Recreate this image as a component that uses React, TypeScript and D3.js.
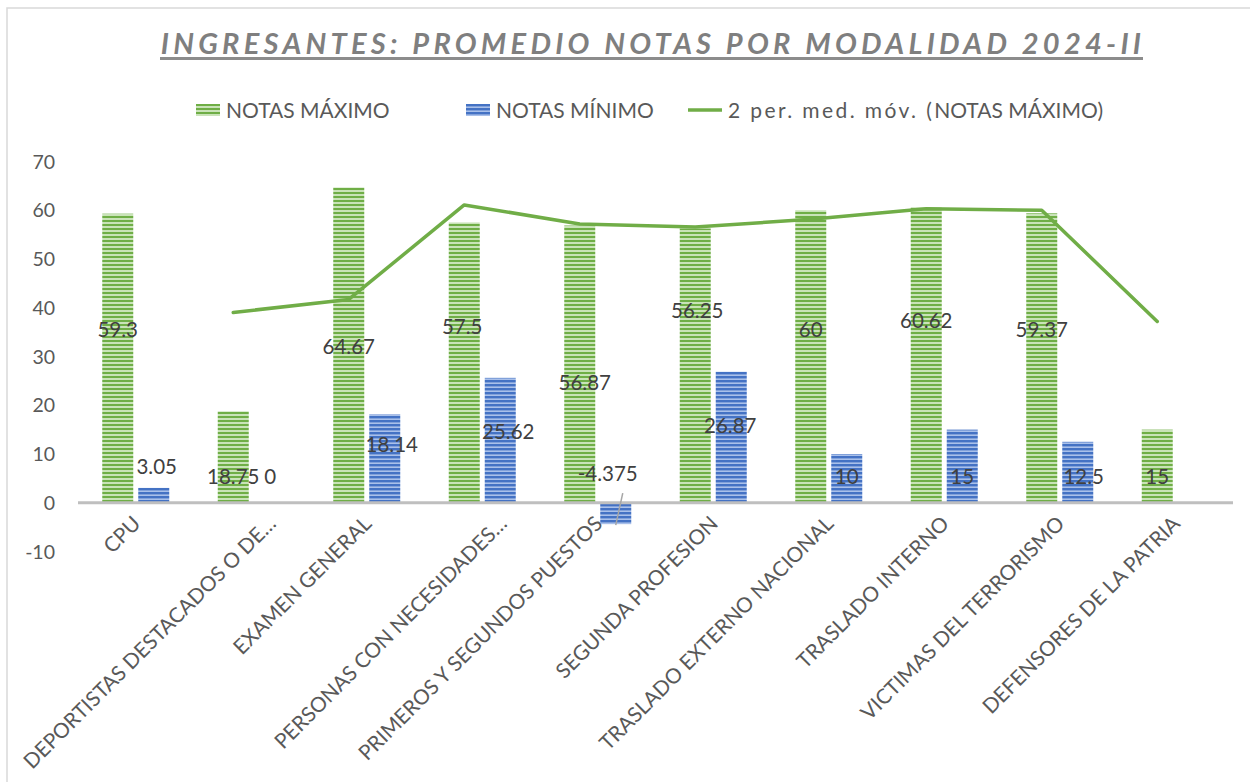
import React from "react";
import * as d3 from "d3";

const categories = [
  "CPU",
  "DEPORTISTAS DESTACADOS O DE…",
  "EXAMEN GENERAL",
  "PERSONAS CON NECESIDADES…",
  "PRIMEROS Y SEGUNDOS PUESTOS",
  "SEGUNDA PROFESION",
  "TRASLADO EXTERNO NACIONAL",
  "TRASLADO INTERNO",
  "VICTIMAS DEL TERRORISMO",
  "DEFENSORES DE LA PATRIA",
];
const notasMaximo = [59.3, 18.75, 64.67, 57.5, 56.87, 56.25, 60, 60.62, 59.37, 15];
const notasMinimo: (number | null)[] = [3.05, 0, 18.14, 25.62, -4.375, 26.87, 10, 15, 12.5, null];
const mediaMovil: (number | null)[] = [null, 39.03, 41.71, 61.09, 57.19, 56.56, 58.13, 60.31, 60.0, 37.19];
const yTicks = [-10, 0, 10, 20, 30, 40, 50, 60, 70];
// label anchor heights (in data units) as placed in the original
const maxLabelAt = [35.4, 5.3, 31.9, 36.0, 24.6, 39.3, 35.4, 37.2, 35.4, 5.3];
const minLabelAt = [7.4, 5.3, 11.9, 14.5, 5.8, 15.8, 5.3, 5.3, 5.3, 5.3];
const maxLabelDx = [0, 0, 0, -2, 5, 2, 0, 0, 0, 0];
const minLabelDx = [3, 1, 7, 8, -8, -1, 0, 0, 6, 0];

const FONT = "Lato, 'Open Sans', sans-serif";
const GREEN = "#70ad47";

export default function App() {
  const W = 1250, H = 782;
  const x = d3.scaleBand<string>().domain(categories).range([78, 1233]);
  const y = d3.scaleLinear().domain([-10, 70]).range([551.5, 161.5]);
  const bw = 31, gap = 5;
  const off = (x.bandwidth() - (2 * bw + gap)) / 2;
  const gx = (i: number) => (x(categories[i]) as number) + off;
  const bx = (i: number) => gx(i) + bw + gap;

  const linePts = mediaMovil
    .map((v, i) => (v == null ? null : ([gx(i) + bw / 2, y(v)] as [number, number])))
    .filter((p): p is [number, number] => p != null);
  const linePath = d3.line()(linePts) || "";

  const y0 = y(0);

  return (
    <div style={{ position: "absolute", left: 0, top: 0 }}>
      <svg width={W} height={H} style={{ display: "block" }} fontFamily={FONT}>
        <defs>
          <pattern id="pg" width="8" height="4" patternUnits="userSpaceOnUse">
            <rect width="8" height="4" fill="#c9e3b8" />
            <rect width="8" height="2" fill="#6fae46" />
          </pattern>
          <pattern id="pb" width="8" height="4" patternUnits="userSpaceOnUse">
            <rect width="8" height="4" fill="#a9c0ea" />
            <rect width="8" height="2.4" fill="#4472c4" />
          </pattern>
        </defs>
        <rect x={0} y={0} width={W} height={H} fill="#fff" />
        <rect x={7} y={8} width={W + 20} height={H + 20} fill="none" stroke="#d9d9d9" strokeWidth={1.5} />

        {/* title */}
        <text x={653} y={54} textAnchor="middle" fontSize={29} fontWeight={700} fontStyle="italic"
          fill="#7f7f7f" letterSpacing={4.25}>
          INGRESANTES: PROMEDIO NOTAS POR MODALIDAD 2024-II
        </text>
        <line x1={160} x2={1143} y1={58.5} y2={58.5} stroke="#8c8c8c" strokeWidth={3} />

        {/* legend */}
        <g fontSize={21} fill="#595959">
          <rect x={196} y={104} width={24} height={12} fill="url(#pg)" />
          <text x={226} y={117.5}>NOTAS MÁXIMO</text>
          <rect x={466} y={104} width={24} height={12} fill="url(#pb)" />
          <text x={496} y={117.5}>NOTAS MÍNIMO</text>
          <line x1={688} x2={722} y1={110} y2={110} stroke={GREEN} strokeWidth={3.5} />
          <text x={728} y={117.5}>
            <tspan letterSpacing={2.4}>2 per. med. móv. (</tspan>
            <tspan>NOTAS MÁXIMO)</tspan>
          </text>
        </g>

        {/* y axis labels */}
        <g fontSize={19.5} fill="#595959" textAnchor="end">
          {yTicks.map((t) => (
            <text key={t} x={55} y={y(t) + 7}>{t}</text>
          ))}
        </g>

        {/* bars */}
        {notasMaximo.map((v, i) => (
          <rect key={"g" + i} x={gx(i)} y={Math.min(y(v), y0)} width={bw}
            height={Math.abs(y(v) - y0)} fill="url(#pg)" />
        ))}
        {notasMinimo.map((v, i) =>
          v == null || v === 0 ? null : (
            <rect key={"b" + i} x={bx(i)} y={Math.min(y(v), y0)} width={bw}
              height={Math.abs(y(v) - y0)} fill="url(#pb)" />
          )
        )}

        {/* zero line */}
        <line x1={78} x2={1233} y1={y0} y2={y0} stroke="#bfbfbf" strokeWidth={3} />

        {/* moving average */}
        <path d={linePath} fill="none" stroke={GREEN} strokeWidth={3.5} strokeLinejoin="round" strokeLinecap="round" />

        {/* leader line */}
        <line x1={bx(4) + bw / 2 + 7} y1={y(-4.375) - 31} x2={bx(4) + bw / 2} y2={y(-4.375) + 1}
          stroke="#a6a6a6" strokeWidth={1.5} />

        {/* data labels */}
        <g fontSize={20.5} fill="#404040" textAnchor="middle">
          {notasMaximo.map((v, i) => (
            <text key={"lg" + i} x={gx(i) + bw / 2 + maxLabelDx[i]} y={y(maxLabelAt[i]) + 7}>{v}</text>
          ))}
          {notasMinimo.map((v, i) =>
            v == null ? null : (
              <text key={"lb" + i} x={bx(i) + bw / 2 + minLabelDx[i]} y={y(minLabelAt[i]) + 7}>{v}</text>
            )
          )}
        </g>

        {/* category labels */}
        <g fontSize={20.8} fill="#595959" textAnchor="end">
          {categories.map((c, i) => {
            const extra = c.endsWith("…") ? 20 : 0;
            const cx = (x(c) as number) + x.bandwidth() / 2 + 6 + extra;
            const cy = 525;
            return (
              <text key={c} transform={`translate(${cx},${cy}) rotate(-45)`}>{c}</text>
            );
          })}
        </g>
      </svg>
    </div>
  );
}
